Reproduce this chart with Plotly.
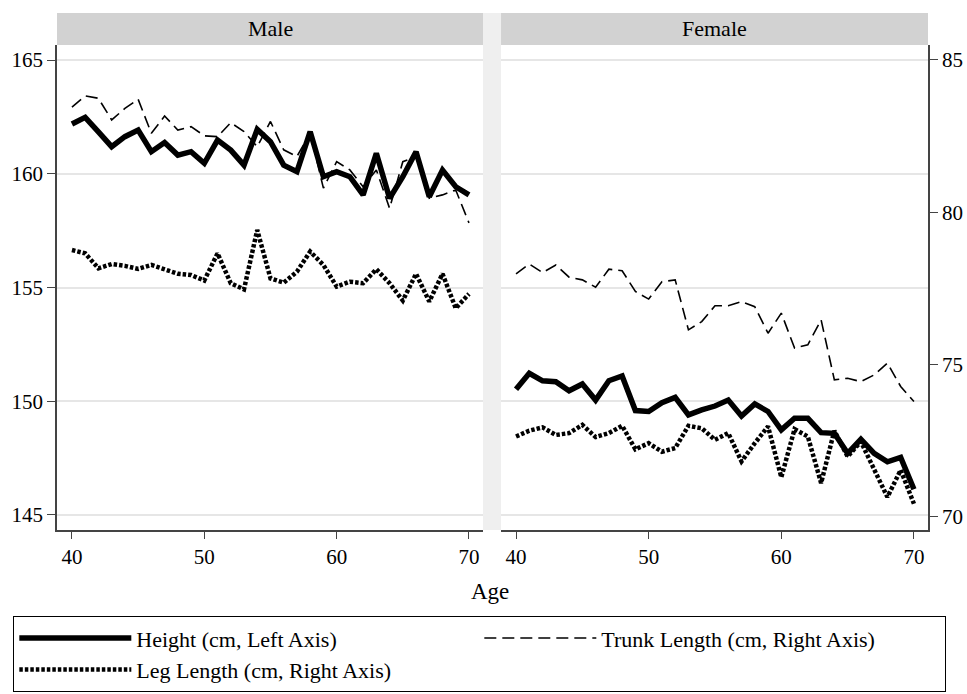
import plotly.graph_objects as go

ages = list(range(40, 71))

male_height = [162.19, 162.48, 161.84, 161.19, 161.63, 161.92, 160.97, 161.37, 160.82, 160.97,
               160.46, 161.48, 161.04, 160.38, 161.95, 161.41, 160.38, 160.09, 161.85, 159.87,
               160.09, 159.87, 159.07, 160.90, 158.92, 159.87, 160.97, 158.99, 160.16, 159.43, 159.07]
male_trunk = [83.45, 83.82, 83.74, 83.03, 83.41, 83.71, 82.59, 83.16, 82.70, 82.81,
              82.51, 82.48, 82.94, 82.65, 82.15, 82.98, 82.05, 81.83, 82.60, 80.79,
              81.66, 81.39, 80.84, 81.39, 80.13, 81.66, 81.83, 80.46, 80.57, 80.73, 79.65]
male_leg = [78.76, 78.65, 78.16, 78.30, 78.24, 78.14, 78.27, 78.13, 77.98, 77.94,
            77.76, 78.65, 77.67, 77.47, 79.42, 77.83, 77.69, 78.05, 78.71, 78.27,
            77.56, 77.72, 77.67, 78.13, 77.67, 77.10, 77.98, 77.07, 77.98, 76.85, 77.32]

female_height = [150.53, 151.23, 150.90, 150.86, 150.46, 150.76, 150.05, 150.90, 151.11, 149.59,
                 149.55, 149.94, 150.17, 149.40, 149.62, 149.79, 150.05, 149.35, 149.88, 149.55,
                 148.74, 149.25, 149.25, 148.62, 148.59, 147.71, 148.33, 147.71, 147.34, 147.53, 146.13]
female_trunk = [77.98, 78.30, 78.02, 78.27, 77.87, 77.78, 77.54, 78.13, 78.08, 77.40,
                77.15, 77.72, 77.78, 76.14, 76.41, 76.93, 76.93, 77.07, 76.90, 76.03,
                76.69, 75.54, 75.65, 76.47, 74.50, 74.55, 74.44, 74.66, 75.05, 74.28, 73.79]
female_leg = [72.64, 72.83, 72.94, 72.69, 72.75, 73.02, 72.62, 72.75, 72.99, 72.22,
              72.42, 72.14, 72.26, 72.99, 72.91, 72.53, 72.75, 71.82, 72.42, 72.97,
              71.30, 72.88, 72.64, 71.11, 72.83, 71.98, 72.47, 71.60, 70.65, 71.54, 70.43]

panel_titles = ["Male", "Female"]
x_ticks = [40, 50, 60, 70]
left_ticks = [145, 150, 155, 160, 165]
right_ticks = [70, 75, 80, 85]
series_names = ["Height (cm, Left Axis)", "Trunk Length (cm, Right Axis)", "Leg Length (cm, Right Axis)"]

FONT = "Liberation Serif"
AXC = "#444444"
GRID = "#e6e6e6"
TICKSIZE = 21

height_style = dict(color="black", width=5.5)
trunk_style = dict(color="black", width=1.6, dash="12px,6px")
leg_style = dict(color="black", width=4.5, dash="3.5px,2px")

fig = go.Figure()

# Male panel
fig.add_trace(go.Scatter(x=ages, y=male_height, mode="lines", line=height_style,
                         name=series_names[0], xaxis="x", yaxis="y", legendrank=1))
fig.add_trace(go.Scatter(x=ages, y=male_trunk, mode="lines", line=trunk_style,
                         name=series_names[1], xaxis="x", yaxis="y2", legendrank=2))
fig.add_trace(go.Scatter(x=ages, y=male_leg, mode="lines", line=leg_style,
                         name=series_names[2], xaxis="x", yaxis="y2", legendrank=3))
# Female panel
fig.add_trace(go.Scatter(x=ages, y=female_height, mode="lines", line=height_style,
                         name=series_names[0], xaxis="x2", yaxis="y3", showlegend=False))
fig.add_trace(go.Scatter(x=ages, y=female_trunk, mode="lines", line=trunk_style,
                         name=series_names[1], xaxis="x2", yaxis="y4", showlegend=False))
fig.add_trace(go.Scatter(x=ages, y=female_leg, mode="lines", line=leg_style,
                         name=series_names[2], xaxis="x2", yaxis="y4", showlegend=False))

L_RANGE = [144.34, 165.66]
R_RANGE = [69.57, 85.49]
X_RANGE = [38.87, 71.06]
D1 = [0, 0.4891]
D2 = [0.5098, 1]

xcommon = dict(range=X_RANGE, tickvals=x_ticks, ticks="outside", ticklen=7, tickwidth=1.2,
               tickcolor=AXC, showline=True, linecolor=AXC, linewidth=1.5, showgrid=False,
               zeroline=False, tickfont=dict(family=FONT, size=TICKSIZE, color="black"))

fig.update_layout(
    width=967, height=694,
    margin=dict(l=57, r=39, t=45, b=164, autoexpand=False),
    paper_bgcolor="white", plot_bgcolor="white",
    font=dict(family=FONT, size=TICKSIZE, color="black"),
    xaxis=dict(domain=D1, anchor="y", **xcommon),
    xaxis2=dict(domain=D2, anchor="y3", **xcommon),
    yaxis=dict(domain=[0, 1], anchor="x", range=L_RANGE, tickvals=left_ticks, ticks="outside",
               ticklen=8, tickwidth=1.2, tickcolor=AXC, showline=True, linecolor=AXC, linewidth=1.5,
               showgrid=True, gridcolor=GRID, gridwidth=1.5, zeroline=False,
               tickfont=dict(family=FONT, size=TICKSIZE, color="black")),
    yaxis2=dict(overlaying="y", anchor="x", side="right", range=R_RANGE, showticklabels=False,
                ticks="", showgrid=False, showline=False, zeroline=False),
    yaxis3=dict(domain=[0, 1], anchor="x2", range=L_RANGE, tickvals=left_ticks, showticklabels=False,
                ticks="", showgrid=True, gridcolor=GRID, gridwidth=1.5, showline=False, zeroline=False),
    yaxis4=dict(overlaying="y3", anchor="x2", side="right", range=R_RANGE, tickvals=right_ticks,
                ticks="outside", ticklen=8, tickwidth=1.2, tickcolor=AXC, showline=True, linecolor=AXC,
                linewidth=1.5, showgrid=False, zeroline=False,
                tickfont=dict(family=FONT, size=TICKSIZE, color="black")),
    legend=dict(orientation="h", x=-0.0505, xanchor="left", y=-0.177, yanchor="top",
                bordercolor="black", borderwidth=1.3, bgcolor="white",
                entrywidth=338, entrywidthmode="pixels", itemwidth=112,
                font=dict(family=FONT, size=22, color="black"), tracegroupgap=0),
    showlegend=True,
)

shapes = []
# grey gap between panels
shapes.append(dict(type="rect", xref="paper", yref="paper", x0=D1[1], x1=D2[0], y0=0, y1=1.066,
                   fillcolor="#efefef", line=dict(width=0), layer="below"))
for dom in (D1, D2):
    shapes.append(dict(type="rect", xref="paper", yref="paper", x0=dom[0], x1=dom[1], y0=1.0, y1=1.066,
                       fillcolor="#d2d2d2", line=dict(width=0), layer="below"))
fig.update_layout(shapes=shapes)

annotations = []
for dom, title in zip((D1, D2), panel_titles):
    annotations.append(dict(text=title, xref="paper", yref="paper", x=(dom[0] + dom[1]) / 2, y=1.033,
                            xanchor="center", yanchor="middle", showarrow=False,
                            font=dict(family=FONT, size=22, color="black")))
annotations.append(dict(text="Age", xref="paper", yref="paper", x=0.497, y=-0.126,
                        xanchor="center", yanchor="middle", showarrow=False,
                        font=dict(family=FONT, size=23, color="black")))
fig.update_layout(annotations=annotations)

fig.write_html("out.html", config={"displayModeBar": False},
               post_script="document.body.style.margin='0px';")
